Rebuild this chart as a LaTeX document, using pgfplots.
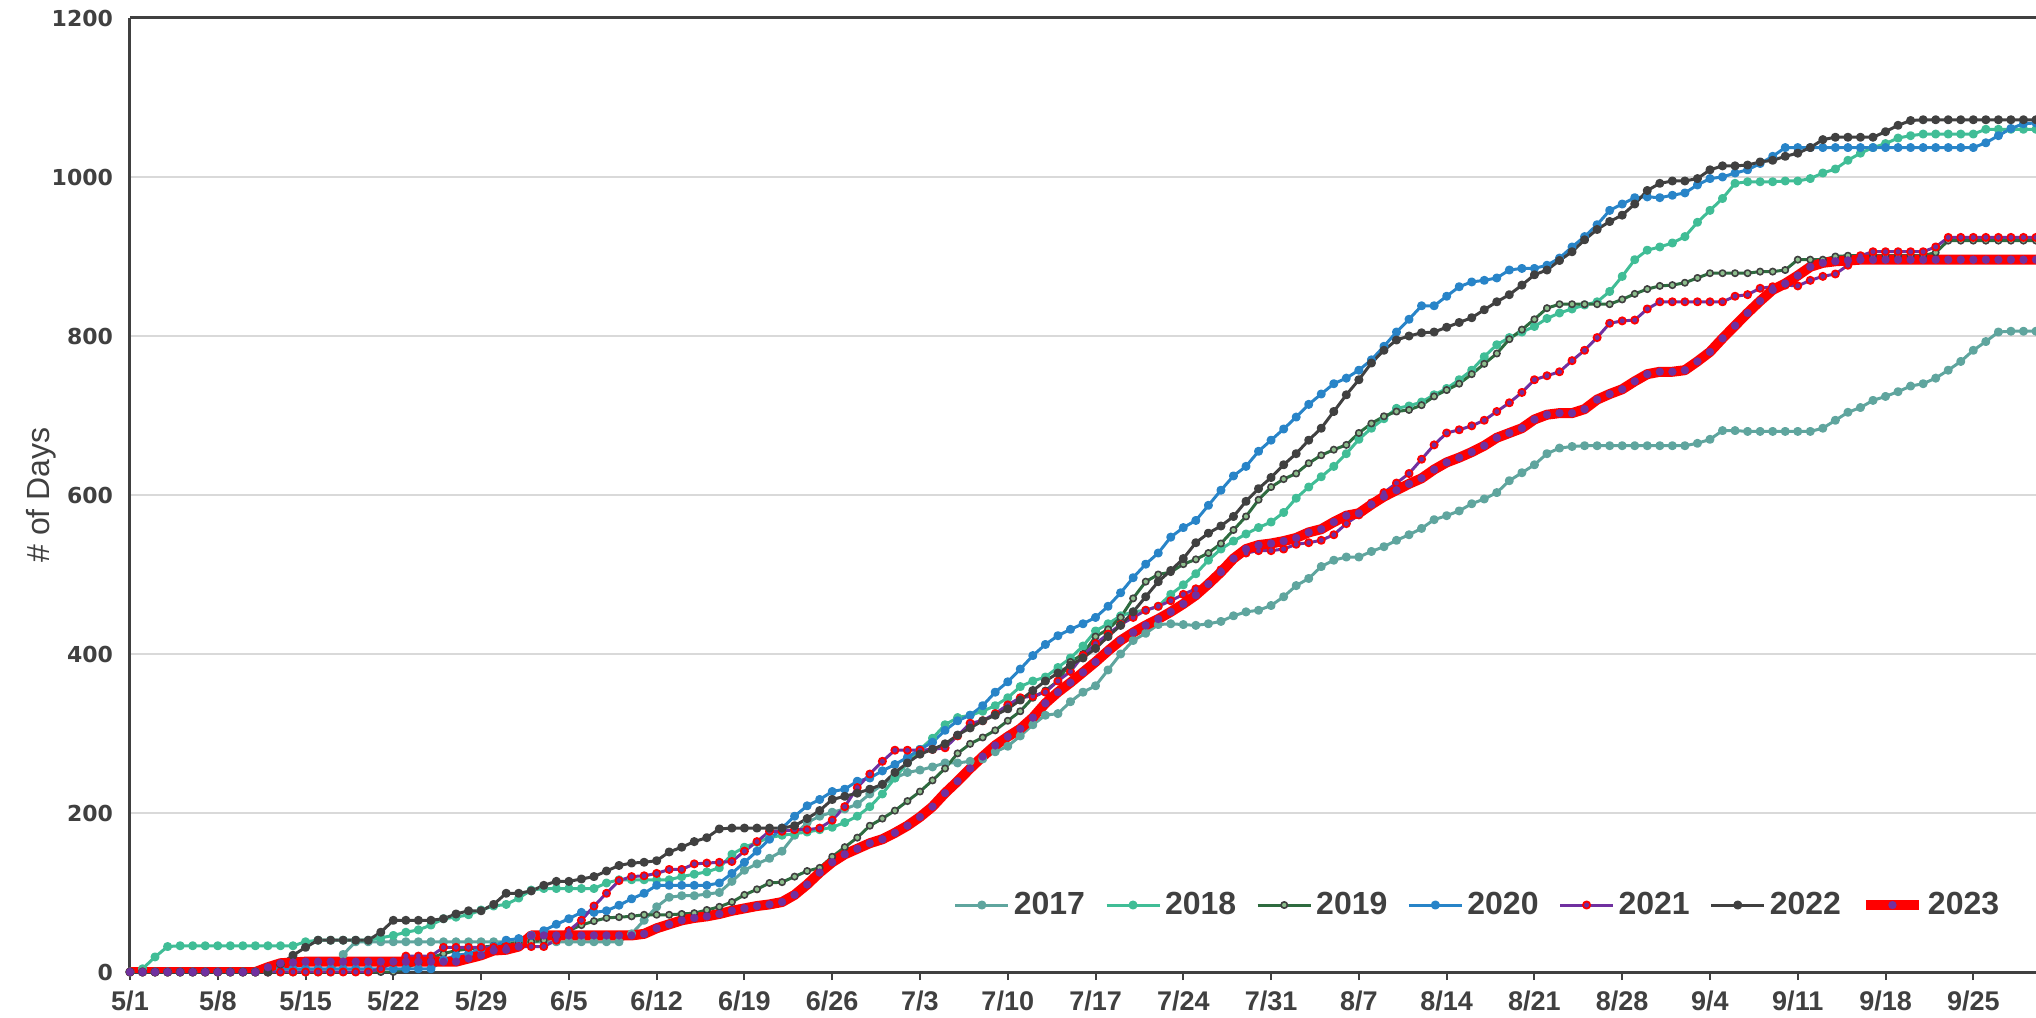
\documentclass[border=0pt]{standalone}
\usepackage{pgfplots}
\pgfplotsset{compat=1.18}
\usepackage{fontspec}
\setmainfont{Liberation Sans}
\newfontfamily\yfont{DejaVu Sans}
\definecolor{txt}{RGB}{64,64,64}
\definecolor{c17}{RGB}{95,165,158}
\definecolor{c18}{RGB}{64,189,150}
\definecolor{c19}{RGB}{46,107,63}
\definecolor{c19m}{RGB}{140,190,140}
\definecolor{c20}{RGB}{40,132,200}
\definecolor{c21}{RGB}{112,48,160}
\definecolor{c22}{RGB}{64,64,64}
\definecolor{c23}{RGB}{255,0,0}
\definecolor{gridc}{RGB}{217,217,217}
\begin{document}
\begin{tikzpicture}
\begin{axis}[
  name=ax,
  width=953pt, height=477pt, scale only axis,
  xmin=0, xmax=152, ymin=0, ymax=1200,
  axis x line*=bottom, axis y line*=left,
  axis line style={-, draw=txt, line width=1.5pt},
  xtick={0,7,...,147},
  xticklabels={5/1,5/8,5/15,5/22,5/29,6/5,6/12,6/19,6/26,7/3,7/10,7/17,7/24,7/31,8/7,8/14,8/21,8/28,9/4,9/11,9/18,9/25},
  xtick align=outside,
  x tick style={draw=txt, line width=1pt},
  major tick length=4pt,
  ytick={0,200,...,1000},
  extra y ticks={1200},
  extra y tick style={grid style={draw=txt, line width=1.5pt}},
  y tick style={draw=none},
  ymajorgrids,
  grid style={draw=gridc, line width=1pt},
  /pgf/number format/assume math mode=true,
  /pgf/number format/1000 sep={},
  xticklabel style={font=\bfseries\fontsize{13.5}{15}\selectfont, text=txt, yshift=-2pt},
  yticklabel style={font=\yfont\bfseries\fontsize{11}{13}\selectfont, text=txt, xshift=-5pt},
  ylabel={\# of Days},
  ylabel style={font=\fontsize{16}{18}\selectfont, text=txt, at={(axis description cs:-0.0467,0.5)}, anchor=center, rotate=0},
  legend columns=-1,
  legend style={at={(axis description cs:0.7075,0.0702)}, anchor=center, draw=none, fill=none,
    font=\bfseries\fontsize{16}{19}\selectfont, text=txt,
    /tikz/every even column/.append style={column sep=8pt}},
  legend image code/.code={\draw[mark repeat=2,mark phase=2,#1] plot coordinates {(0pt,0pt) (13.25pt,0pt) (26.5pt,0pt)};},
  every axis plot/.append style={line join=round},
]
% 2017
\addplot[c17, line width=1.5pt, mark=*, mark size=1.5pt, mark options={fill=c17, draw=c17}] coordinates {
(0,0)(1,0)(2,0)(3,0)(4,0)(5,0)(6,0)(7,0)(8,0)(9,0)(10,0)(11,0)(12,0)(13,0)(14,0)(15,0)(16,0)
(17,22)(18,38)(19,38)(20,38)(21,38)(22,38)(23,38)(24,38)(25,38)(26,38)(27,38)(28,38)(29,38)(30,38)
(31,38)(32,38)(33,38)(34,38)(35,38)(36,38)(37,38)(38,38)(39,38)
(40,48)(41,65)(42,82)(43,94)(44,96)(45,96)(46,98)(47,100)(48,114)(49,128)(50,136)(51,143)(52,152)
(53,172)(54,188)(55,196)(56,201)(57,205)(58,211)(59,224)(60,236)(61,244)(62,251)(63,254)(64,258)
(65,263)(66,263)(67,265)(68,268)(69,277)(70,284)(71,297)(72,311)(73,323)(74,325)(75,340)(76,352)
(77,360)(78,380)(79,400)(80,417)(81,426)(82,437)(83,438)(84,437)(85,436)(86,438)(87,441)(88,448)
(89,453)(90,455)(91,461)(92,472)(93,486)(94,495)(95,510)(96,518)(97,522)(98,522)(99,529)(100,535)
(101,543)(102,550)(103,558)(104,569)(105,574)(106,580)(107,589)(108,595)(109,603)(110,618)(111,628)
(112,638)(113,652)(114,659)(115,661)(116,662)(117,662)(118,662)(119,662)(120,662)(121,662)(122,662)
(123,662)(124,662)(125,665)(126,670)(127,681)(128,681)(129,680)(130,680)(131,680)(132,680)(133,680)
(134,680)(135,684)(136,694)(137,704)(138,710)(139,719)(140,724)(141,730)(142,737)(143,740)(144,747)
(145,757)(146,768)(147,782)(148,793)(149,805)(150,806)(151,806)(152,806)};
\addlegendentry{2017}
% 2018
\addplot[c18, line width=1.5pt, mark=*, mark size=1.5pt, mark options={fill=c18, draw=c18}] coordinates {
(0,0)(1,4)(2,19)(3,32)(4,33)(5,33)(6,33)(7,33)(8,33)(9,33)(10,33)(11,33)(12,33)(13,33)(14,38)
(15,40)(16,40)(17,40)(18,40)(19,40)(20,43)(21,46)(22,50)(23,53)(24,59)(25,67)(26,69)(27,72)(28,78)
(29,83)(30,85)(31,93)(32,103)(33,105)(34,105)(35,105)(36,105)(37,105)(38,112)(39,116)(40,116)
(41,116)(42,116)(43,116)(44,120)(45,123)(46,126)(47,131)(48,148)(49,157)(50,163)(51,169)(52,172)
(53,174)(54,176)(55,179)(56,182)(57,188)(58,196)(59,208)(60,224)(61,244)(62,263)(63,280)(64,294)
(65,311)(66,320)(67,323)(68,328)(69,335)(70,345)(71,359)(72,366)(73,371)(74,383)(75,395)(76,410)
(77,429)(78,438)(79,448)(80,453)(81,455)(82,460)(83,475)(84,487)(85,501)(86,518)(87,532)(88,542)
(89,551)(90,559)(91,566)(92,578)(93,596)(94,610)(95,623)(96,636)(97,652)(98,670)(99,684)(100,696)
(101,709)(102,712)(103,717)(104,726)(105,734)(106,745)(107,757)(108,774)(109,789)(110,798)(111,805)
(112,812)(113,822)(114,829)(115,834)(116,839)(117,843)(118,856)(119,875)(120,896)(121,908)(122,912)
(123,917)(124,925)(125,943)(126,958)(127,973)(128,992)(129,994)(130,994)(131,994)(132,995)(133,995)
(134,998)(135,1005)(136,1010)(137,1021)(138,1030)(139,1037)(140,1042)(141,1049)(142,1052)(143,1054)
(144,1054)(145,1054)(146,1054)(147,1054)(148,1060)(149,1060)(150,1060)(151,1060)(152,1060)};
\addlegendentry{2018}
% 2019
\addplot[c19, line width=1.5pt, mark=*, mark size=1.6pt, mark options={fill=c19m, draw=c22, line width=0.8pt}] coordinates {
(0,0)(1,0)(2,0)(3,0)(4,0)(5,0)(6,0)(7,0)(8,0)(9,0)(10,0)(11,0)(12,0)(13,0)(14,0)(15,0)(16,0)(17,0)
(18,0)(19,0)(20,0)(21,0)(22,5)(23,12)(24,18)(25,23)(26,27)(27,29)(28,31)(29,33)(30,35)(31,37)(32,38)
(33,40)(34,44)(35,52)(36,59)(37,64)(38,68)(39,69)(40,70)(41,72)(42,72)(43,72)(44,73)(45,74)(46,78)
(47,82)(48,88)(49,97)(50,104)(51,112)(52,113)(53,120)(54,127)(55,131)(56,145)(57,157)(58,169)
(59,184)(60,193)(61,203)(62,215)(63,227)(64,241)(65,256)(66,275)(67,287)(68,295)(69,304)(70,316)
(71,328)(72,345)(73,354)(74,366)(75,390)(76,400)(77,422)(78,431)(79,446)(80,470)(81,491)(82,500)
(83,503)(84,513)(85,519)(86,527)(87,539)(88,556)(89,573)(90,594)(91,610)(92,620)(93,627)(94,640)
(95,650)(96,657)(97,663)(98,678)(99,690)(100,699)(101,705)(102,707)(103,713)(104,724)(105,732)
(106,740)(107,752)(108,765)(109,778)(110,796)(111,808)(112,821)(113,835)(114,840)(115,840)(116,840)
(117,840)(118,840)(119,846)(120,853)(121,859)(122,863)(123,864)(124,867)(125,873)(126,879)(127,879)
(128,879)(129,879)(130,881)(131,881)(132,883)(133,896)(134,896)(135,896)(136,900)(137,901)(138,901)
(139,901)(140,901)(141,901)(142,901)(143,901)(144,905)(145,920)(146,920)(147,920)(148,920)(149,920)
(150,920)(151,920)(152,920)};
\addlegendentry{2019}
% 2020
\addplot[c20, line width=1.5pt, mark=*, mark size=1.5pt, mark options={fill=c20, draw=c20}] coordinates {
(0,0)(1,0)(2,0)(3,0)(4,0)(5,0)(6,0)(7,0)(8,0)(9,0)(10,0)(11,0)(12,4)(13,4)(14,4)(15,4)(16,4)(17,4)
(18,4)(19,4)(20,4)(21,4)(22,4)(23,4)(24,4)(25,15)(26,21)(27,23)(28,29)(29,32)(30,40)(31,42)(32,46)
(33,52)(34,60)(35,67)(36,75)(37,75)(38,77)(39,84)(40,92)(41,99)(42,109)(43,109)(44,109)(45,109)
(46,109)(47,112)(48,124)(49,138)(50,152)(51,167)(52,181)(53,196)(54,209)(55,217)(56,227)(57,230)
(58,240)(59,244)(60,253)(61,261)(62,270)(63,280)(64,289)(65,304)(66,316)(67,323)(68,335)(69,352)
(70,365)(71,381)(72,398)(73,412)(74,423)(75,431)(76,438)(77,446)(78,460)(79,477)(80,496)(81,513)
(82,527)(83,547)(84,559)(85,568)(86,587)(87,606)(88,624)(89,636)(90,655)(91,669)(92,683)(93,698)
(94,714)(95,727)(96,740)(97,747)(98,757)(99,770)(100,787)(101,805)(102,821)(103,838)(104,838)
(105,850)(106,862)(107,868)(108,870)(109,873)(110,883)(111,885)(112,885)(113,889)(114,898)(115,912)
(116,925)(117,940)(118,958)(119,966)(120,974)(121,975)(122,974)(123,977)(124,980)(125,990)(126,998)
(127,1000)(128,1005)(129,1009)(130,1017)(131,1026)(132,1037)(133,1037)(134,1037)(135,1037)(136,1037)
(137,1037)(138,1037)(139,1037)(140,1037)(141,1037)(142,1037)(143,1037)(144,1037)(145,1037)(146,1037)
(147,1037)(148,1043)(149,1052)(150,1061)(151,1067)(152,1068)};
\addlegendentry{2020}
% 2021
\addplot[c21, line width=1.5pt, mark=*, mark size=1.8pt, mark options={fill=c21, draw=red, line width=0.9pt}] coordinates {
(0,0)(1,0)(2,0)(3,0)(4,0)(5,0)(6,0)(7,0)(8,0)(9,0)(10,0)(11,0)(12,0)(13,0)(14,0)(15,0)(16,0)(17,0)
(18,0)(19,0)(20,4)(21,12)(22,20)(23,20)(24,20)(25,31)(26,31)(27,31)(28,31)(29,31)(30,32)(31,32)
(32,32)(33,32)(34,40)(35,52)(36,65)(37,83)(38,99)(39,115)(40,120)(41,121)(42,124)(43,129)(44,129)
(45,136)(46,137)(47,138)(48,139)(49,152)(50,164)(51,177)(52,177)(53,179)(54,179)(55,181)(56,191)
(57,208)(58,232)(59,249)(60,265)(61,279)(62,279)(63,279)(64,280)(65,282)(66,297)(67,313)(68,316)
(69,325)(70,336)(71,345)(72,347)(73,352)(74,366)(75,378)(76,398)(77,413)(78,425)(79,437)(80,446)
(81,455)(82,460)(83,467)(84,475)(85,482)(86,489)(87,506)(88,520)(89,527)(90,530)(91,530)(92,532)
(93,538)(94,540)(95,543)(96,550)(97,564)(98,575)(99,590)(100,603)(101,615)(102,627)(103,645)
(104,663)(105,678)(106,682)(107,687)(108,694)(109,705)(110,716)(111,729)(112,745)(113,750)(114,755)
(115,769)(116,782)(117,798)(118,816)(119,819)(120,820)(121,834)(122,843)(123,843)(124,843)(125,843)
(126,843)(127,843)(128,850)(129,852)(130,860)(131,862)(132,864)(133,863)(134,870)(135,875)(136,878)
(137,889)(138,901)(139,906)(140,906)(141,906)(142,906)(143,906)(144,912)(145,924)(146,924)(147,924)
(148,924)(149,924)(150,924)(151,924)(152,924)};
\addlegendentry{2021}
% 2022
\addplot[c22, line width=1.5pt, mark=*, mark size=1.5pt, mark options={fill=c22, draw=c22}] coordinates {
(0,0)(1,0)(2,0)(3,0)(4,0)(5,0)(6,0)(7,0)(8,0)(9,0)(10,0)(11,0)(12,10)(13,21)(14,31)(15,40)(16,40)
(17,40)(18,40)(19,40)(20,50)(21,65)(22,65)(23,65)(24,65)(25,67)(26,73)(27,77)(28,77)(29,85)(30,99)
(31,99)(32,102)(33,109)(34,114)(35,114)(36,117)(37,120)(38,127)(39,134)(40,137)(41,138)(42,140)
(43,151)(44,157)(45,164)(46,169)(47,180)(48,181)(49,181)(50,181)(51,181)(52,181)(53,184)(54,193)
(55,203)(56,217)(57,221)(58,225)(59,230)(60,236)(61,251)(62,263)(63,274)(64,280)(65,287)(66,298)
(67,307)(68,316)(69,323)(70,331)(71,342)(72,354)(73,366)(74,376)(75,386)(76,395)(77,407)(78,422)
(79,436)(80,453)(81,472)(82,491)(83,505)(84,520)(85,540)(86,552)(87,561)(88,573)(89,592)(90,608)
(91,622)(92,638)(93,652)(94,669)(95,684)(96,705)(97,726)(98,745)(99,766)(100,782)(101,795)(102,800)
(103,804)(104,805)(105,811)(106,817)(107,823)(108,833)(109,843)(110,852)(111,864)(112,877)(113,883)
(114,895)(115,906)(116,921)(117,934)(118,944)(119,952)(120,966)(121,983)(122,992)(123,995)(124,995)
(125,998)(126,1009)(127,1014)(128,1014)(129,1015)(130,1019)(131,1021)(132,1026)(133,1030)(134,1037)
(135,1047)(136,1050)(137,1050)(138,1050)(139,1050)(140,1057)(141,1065)(142,1071)(143,1072)(144,1072)
(145,1072)(146,1072)(147,1072)(148,1072)(149,1072)(150,1072)(151,1072)(152,1072)};
\addlegendentry{2022}
% 2023
\addplot[c23, line width=5pt, mark=*, mark size=2pt, mark options={fill=c21, draw=c21, line width=0.1pt}] coordinates {
(0,0)(1,0)(2,0)(3,0)(4,0)(5,0)(6,0)(7,0)(8,0)(9,0)(10,0)(11,6)(12,11)(13,12)(14,13)(15,13)(16,13)
(17,13)(18,13)(19,13)(20,13)(21,13)(22,13)(23,13)(24,13)(25,13)(26,13)(27,17)(28,21)(29,27)(30,28)
(31,32)(32,46)(33,46)(34,46)(35,46)(36,46)(37,46)(38,46)(39,46)(40,46)(41,48)(42,55)(43,60)(44,65)
(45,68)(46,70)(47,73)(48,77)(49,80)(50,83)(51,85)(52,88)(53,97)(54,110)(55,125)(56,138)(57,148)
(58,155)(59,162)(60,167)(61,175)(62,184)(63,195)(64,208)(65,225)(66,240)(67,256)(68,271)(69,285)
(70,296)(71,306)(72,320)(73,338)(74,352)(75,364)(76,377)(77,390)(78,404)(79,417)(80,427)(81,436)
(82,444)(83,453)(84,463)(85,474)(86,488)(87,503)(88,520)(89,532)(90,537)(91,539)(92,542)(93,546)
(94,553)(95,557)(96,566)(97,574)(98,577)(99,588)(100,598)(101,606)(102,614)(103,621)(104,632)
(105,641)(106,647)(107,654)(108,662)(109,672)(110,678)(111,684)(112,695)(113,701)(114,703)(115,703)
(116,708)(117,720)(118,727)(119,733)(120,743)(121,752)(122,755)(123,755)(124,757)(125,768)(126,780)
(127,797)(128,813)(129,829)(130,844)(131,858)(132,866)(133,876)(134,887)(135,892)(136,894)(137,895)
(138,896)(139,896)(140,896)(141,896)(142,896)(143,896)(144,896)(145,896)(146,896)(147,896)(148,896)
(149,896)(150,896)(151,896)(152,896)};
\addlegendentry{2023}
\end{axis}
\pgfresetboundingbox
\useasboundingbox ([xshift=-65pt,yshift=-23pt]ax.south west) rectangle ([yshift=9pt]ax.north east);
\end{tikzpicture}
\end{document}
